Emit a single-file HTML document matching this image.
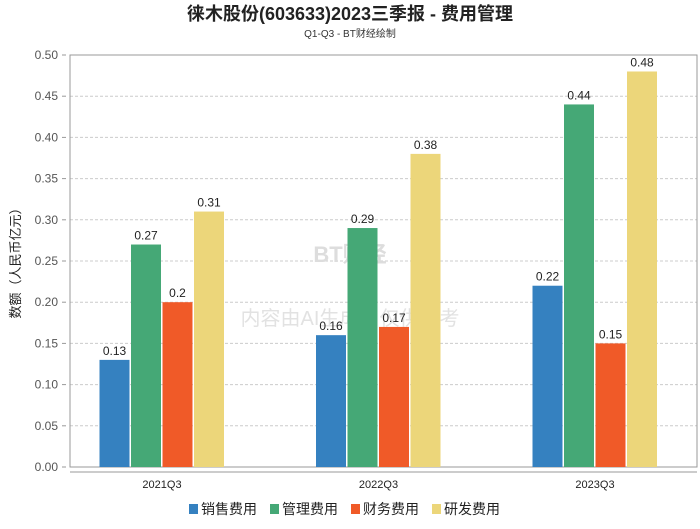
<!DOCTYPE html>
<html><head><meta charset="utf-8"><style>
body{margin:0;background:#fff;}
svg text{font-family:"Liberation Sans","Noto Sans CJK SC",sans-serif;}
</style></head><body>
<svg id="chart" width="700" height="524" xmlns="http://www.w3.org/2000/svg">
<text x="350" y="20" text-anchor="middle" font-size="18" font-weight="bold" fill="#222">徕木股份(603633)2023三季报 - 费用管理</text>
<text x="350" y="37" text-anchor="middle" font-size="10" fill="#333">Q1-Q3 - BT财经绘制</text>
<g id="grid"></g>
<rect x="70" y="55" width="627" height="412" fill="none" stroke="#999"/>
<line x1="70" y1="472" x2="697" y2="472" stroke="#999"/>
<text x="350" y="262" text-anchor="middle" font-size="22" fill="#ddd" font-weight="bold">BT财经</text>
<text x="350" y="325" text-anchor="middle" font-size="20" fill="#e2e2e2">内容由AI生成，仅供参考</text>
<g id="bars"></g>
<text x="20" y="260" transform="rotate(-90 20 260)" text-anchor="middle" font-size="13" fill="#222">数额（人民币亿元）</text>
<g id="legend"></g>
</svg>
<script>
const categories=["2021Q3","2022Q3","2023Q3"];
const seriesNames=["销售费用","管理费用","财务费用","研发费用"];
const colors=["#3581c0","#45a876","#f05a28","#ecd67a"];
const sales=[0.13,0.16,0.22];
const admin=[0.27,0.29,0.44];
const finance=[0.2,0.17,0.15];
const rnd=[0.31,0.38,0.48];
const yTicks=[0,0.05,0.1,0.15,0.2,0.25,0.3,0.35,0.4,0.45,0.5];
const series=[sales,admin,finance,rnd];
const NS="http://www.w3.org/2000/svg";
const y=v=>467-v/0.5*412;
const xc=i=>162+i*216.5;
function mk(t,a,p){const e=document.createElementNS(NS,t);for(const k in a)e.setAttribute(k,a[k]);p.appendChild(e);return e;}
const grid=document.getElementById('grid');
yTicks.forEach(v=>{
  if(v>0){const l=mk('line',{x1:70,x2:697,y1:y(v),y2:y(v),stroke:'#ccc','stroke-dasharray':'3,2'},grid);
  
  }
  const t=mk('text',{x:58,y:y(v)+4,'text-anchor':'end','font-size':12,fill:'#555'},grid);
  t.textContent=v.toFixed(2);
  
  
  mk('line',{x1:62,x2:66,y1:y(v),y2:y(v),stroke:'#999'},grid);
});
const bars=document.getElementById('bars');
categories.forEach((c,i)=>{
  const t=mk('text',{x:xc(i),y:488,'text-anchor':'middle','font-size':11,fill:'#222'},bars);
  t.textContent=c;
  
  
  series.forEach((s,j)=>{
    const bx=xc(i)-62.5+j*31.5;
    const r=mk('rect',{x:bx,y:y(s[i]),width:30,height:467-y(s[i]),fill:colors[j]},bars);
    
    
    const lb=mk('text',{x:bx+15,y:y(s[i])-5,'text-anchor':'middle','font-size':12,fill:'#222'},bars);
    lb.textContent=String(s[i]);
    
    
  });
});
const lg=document.getElementById('legend');
let lx=189;
seriesNames.forEach((n,j)=>{
  const r=mk('rect',{x:lx,y:504,width:9,height:10,fill:colors[j]},lg);
  
  
  const t=mk('text',{x:lx+12,y:514,'font-size':14,fill:'#222'},lg);
  t.textContent=n;
  
  
  lx+=81;
});
</script>
</body></html>
